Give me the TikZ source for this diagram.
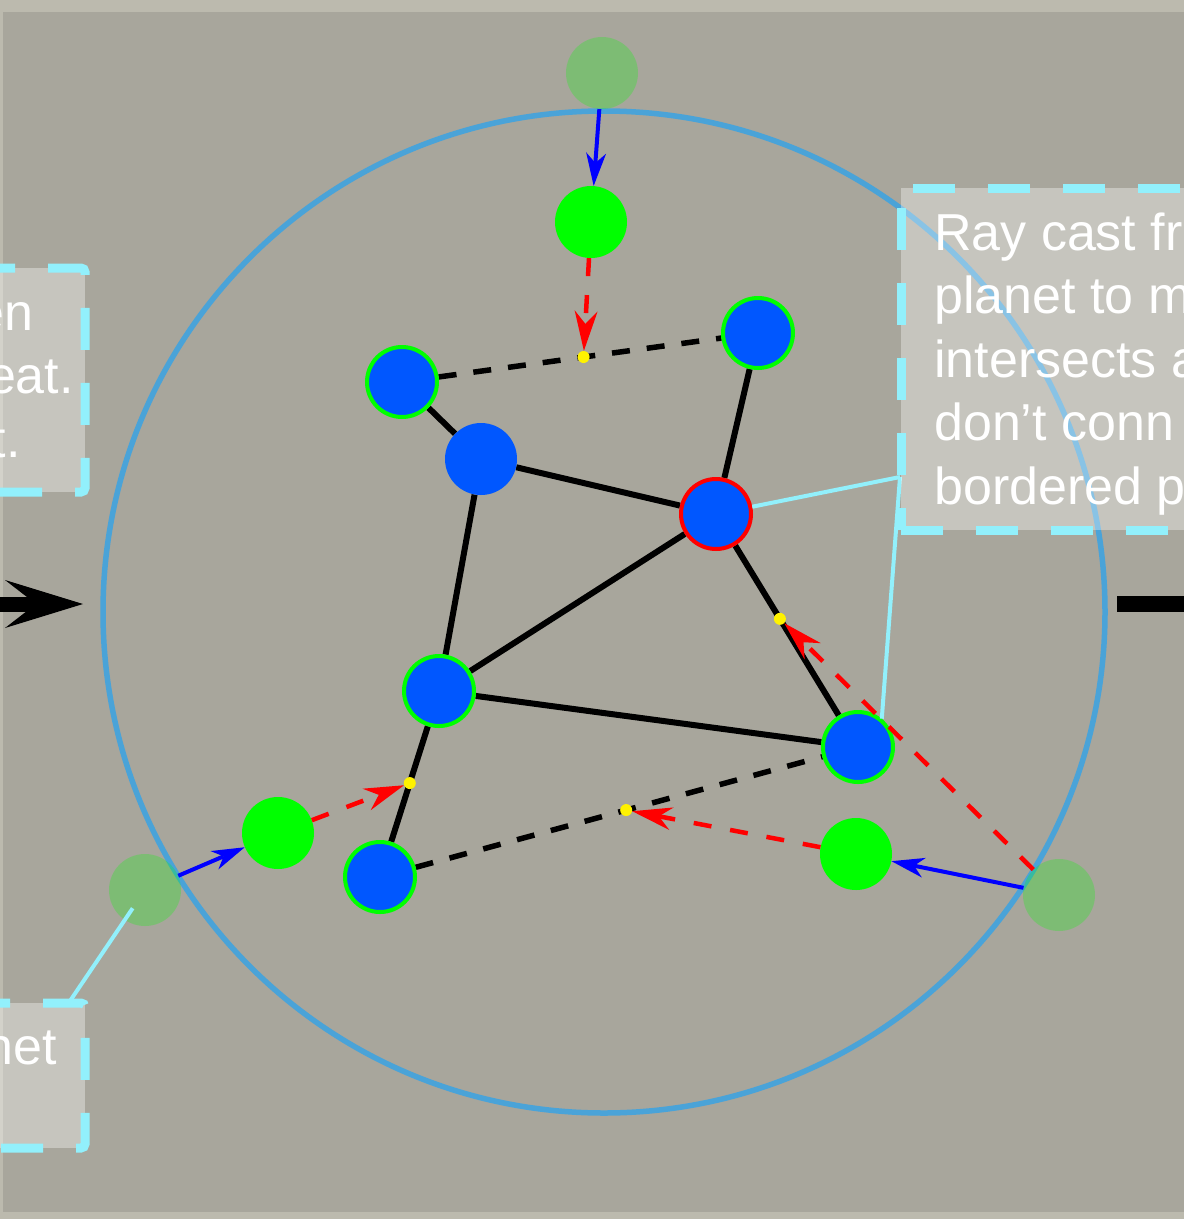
\documentclass[tikz,border=0pt]{standalone}
\usepackage{fontspec}
\setmainfont{Liberation Sans}
\usetikzlibrary{arrows.meta,calc}
\definecolor{bgA}{HTML}{A8A69C}
\definecolor{frameC}{HTML}{BCBAAE}
\definecolor{glowC}{HTML}{E8E8D0}
\definecolor{ringC}{HTML}{4AA3D8}
\definecolor{nodeBlue}{HTML}{0057FF}
\definecolor{planetGreen}{HTML}{00FF00}
\definecolor{pushBlue}{HTML}{0000FF}
\definecolor{calloutC}{HTML}{92F0FC}
\pgfdeclarelayer{back}
\pgfdeclarelayer{edges}
\pgfsetlayers{back,edges,main}
\begin{document}
\begin{tikzpicture}[x=1pt,y=-1pt,
  vertex/.style={circle,inner sep=0pt,minimum size=70pt,fill=nodeBlue,draw=planetGreen,line width=4pt},
  hub/.style={circle,inner sep=0pt,minimum size=72pt,fill=nodeBlue},
  planet/.style={circle,inner sep=0pt,minimum size=72pt,fill=planetGreen},
  ghost/.style={circle,inner sep=0pt,minimum size=72pt,fill=planetGreen,fill opacity=0.25},
  hit/.style={circle,inner sep=0pt,minimum size=12pt,fill=yellow},
  link/.style={line width=6pt,draw=black},
  virt/.style={line width=5.5pt,draw=black,dash pattern=on 18pt off 17pt},
  push/.style={line width=4pt,draw=pushBlue,-{Stealth[length=33pt,width=20pt,inset=10pt,line width=0pt]}},
  ray/.style={line width=4.5pt,draw=red,dash pattern=on 18pt off 19pt,-{Stealth[length=40pt,width=23pt,inset=13pt,line width=0pt]}},
  cline/.style={line width=4pt,draw=calloutC},
  boxfill/.style={fill=white,fill opacity=0.35},
  boxedge/.style={draw=calloutC,line width=9pt,dash pattern=on 42pt off 33pt,rounded corners=4pt},
  lbl/.style={text=white,inner sep=0pt,font=\fontsize{52pt}{63.5pt}\selectfont}
]
\useasboundingbox (0,0) rectangle (1184,1219);
\begin{pgfonlayer}{back}
  \fill[frameC] (0,0) rectangle (1184,1219);
  \fill[bgA] (3,12) rectangle (1184,1212);
  \foreach \r in {140,130,...,10}
    \fill[glowC,fill opacity=0.012] (483,707) circle (\r pt);
\end{pgfonlayer}

% boundary ring
\node[circle,draw=ringC,line width=5.5pt,minimum size=1002pt,inner sep=0pt] (ring) at (604,612) {};

% ghost planets on the boundary
\node[ghost] (ghT) at (602,73) {};
\node[ghost] (ghL) at (145,890) {};
\node[ghost] (ghR) at (1059,895) {};

% moved planets
\node[planet] (gT) at (591,222) {};
\node[planet] (gL) at (278,833) {};
\node[planet] (gR) at (856,854) {};

% graph vertices
\node[vertex] (A) at (402,382) {};
\node[vertex] (B) at (758,333) {};
\node[hub] (C) at (481,459) {};
\node[vertex,draw=red] (D) at (716,514) {};
\node[vertex] (E) at (439,691) {};
\node[vertex] (F) at (858,747) {};
\node[vertex] (G) at (380,877) {};

% intersection points
\node[hit] (h1) at ($(A)!0.51!(B)$) {};
\node[hit] (h2) at ($(E)!0.495!(G)$) {};
\node[hit] (h3) at ($(D)!0.45!(F)$) {};
\node[hit] (h4) at ($(G)!0.515!(F)$) {};

\begin{pgfonlayer}{edges}
  \draw[link] (A) -- (C);
  \draw[link] (C) -- (D);
  \draw[link] (B) -- (D);
  \draw[link] (C) -- (E);
  \draw[link] (D) -- (E);
  \draw[link] (D) -- (F);
  \draw[link] (E) -- (F);
  \draw[link] (E) -- (G);
  \draw[virt] (A) -- (B);
  \draw[virt] (G) -- (F);
\end{pgfonlayer}

% pushes from boundary
\draw[push] (ghT) -- (gT);
\draw[push] (ghL) -- (gL);
\draw[push] (ghR) -- (gR);

% ray casts
\draw[ray] (gT) -- (h1);
\draw[ray] (gL) -- (h2);
\draw[ray] (gR) -- (h4);
\draw[ray] (ghR) -- (h3);

% in / out arrows
\coordinate (inL) at (-20,604);
\coordinate (inTip) at (83,604);
\draw[line width=15pt,-{Stealth[length=78pt,width=48pt,inset=31pt,line width=0pt]}] (inL) -- (inTip);
\coordinate (outS) at (1117,604);
\coordinate (outE) at (1200,604);
\draw[line width=16pt] (outS) -- (outE);

% callout connectors
\coordinate (rb) at (900,477);
\coordinate (lbTop) at (70,1001);
\draw[cline] (D) -- (rb);
\draw[cline] (rb) -- (F.50);
\draw[cline] ($(ghL.center)!22pt!(lbTop)$) -- (lbTop);

% left upper callout
\path[boxfill] (-120,268) rectangle (85,492);
\draw[boxedge] (-102,268) -- (85,268) -- (85,492) -- (-120,492);
\node[lbl,anchor=base east] (l1) at (34,330) {en};
\node[lbl,anchor=base east] (l2) at (74,393) {eat.};
\node[lbl,anchor=base east] (l3) at (21,457) {t.};

% left lower callout
\path[boxfill] (-120,1003) rectangle (85,1148);
\draw[boxedge] (-107,1003) -- (85,1003) -- (85,1148) -- (-120,1148);
\node[lbl,anchor=base east] (l4) at (57,1064) {net};

% right callout
\path[boxfill] (901,188) rectangle (1220,530);
\draw[boxedge,dash phase=55pt] (901,188) -- (901,530);
\draw[boxedge,dash phase=0pt] (901,530) -- (1220,530);
\draw[boxedge,dash phase=63pt] (901,188) -- (1220,188);
\node[lbl,anchor=base west] (r1) at (934,250) {Ray cast fr};
\node[lbl,anchor=base west] (r2) at (934,313.5) {planet to m};
\node[lbl,anchor=base west] (r3) at (934,377) {intersects a};
\node[lbl,anchor=base west] (r4) at (934,440.5) {don’t conn};
\node[lbl,anchor=base west] (r5) at (934,504) {bordered p};
\end{tikzpicture}
\end{document}
